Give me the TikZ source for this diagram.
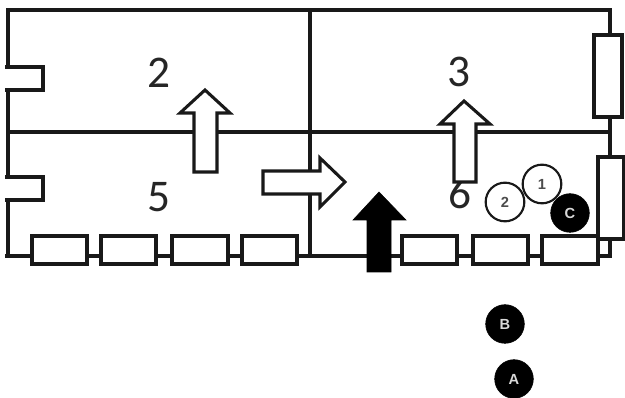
\documentclass[tikz,border=0pt]{standalone}
\usepackage{fontspec}
\setmainfont{Carlito}
\newfontfamily\lab{Liberation Sans}
\tikzset{
  wall/.style={draw=black!90,line width=2.3pt},
  win/.style={wall,fill=white},
  arrowshape/.style={wall,fill=white,line join=miter},
  solidarrow/.style={draw=black,fill=black},
  room/.style={font=\fontsize{34}{34}\selectfont,text=black!85,inner sep=0pt},
  circ/.style={circle,minimum size=29pt,inner sep=0pt,font=\lab\bfseries\fontsize{11}{11}\selectfont},
  wc/.style={circ,draw=black!90,line width=1.6pt,fill=white,text=black!70},
  bc/.style={circ,draw=black,fill=black,text=white!85!black}
}
\begin{document}
\begin{tikzpicture}[x=0.75pt,y=-0.75pt]
\useasboundingbox[fill=white] (0,0) rectangle (625,398);
% walls
\draw[wall] (5,256) -- (32,256);
\draw[wall] (8,256) -- (8,200) (5,200) -- (43,200) -- (43,177) -- (5,177) (8,177) -- (8,90) (5,90) -- (43,90) -- (43,67) -- (5,67) (8,67) -- (8,10) -- (610,10) -- (610,256) -- (8,256);
\draw[wall] (8,132) -- (610,132);
\draw[wall] (310,10) -- (310,256);
% room numbers
\node[room] (r2) at (159,73) {2};
\node[room] (r3) at (459,72) {3};
\node[room] (r5) at (159,197) {5};
\node[room] (r6) at (460,193) {6};
% windows
\foreach \n/\a/\b in {w1/32/87,w2/101/156,w3/172/228,w4/242/297,w5/402/457,w6/473/528,w7/542/598}
  \draw[win] (\a,236) rectangle (\b,264);
\draw[win] (594,35) rectangle (622,117);
\draw[win] (598,157) rectangle (624,239);
% arrows
\draw[arrowshape] (194,172) -- (194,113) -- (180,113) -- (205,90) -- (230,113) -- (217,113) -- (217,172) -- cycle;
\draw[arrowshape] (454,182) -- (454,124) -- (440,124) -- (464,101) -- (490,124) -- (476,124) -- (476,182) -- cycle;
\draw[arrowshape] (263,171) -- (320,171) -- (320,158) -- (345,182) -- (320,207) -- (320,194) -- (263,194) -- cycle;
\fill[solidarrow] (367,272) -- (367,220) -- (353,220) -- (379,192) -- (406,220) -- (391,220) -- (391,272) -- cycle;
% circles
\node[bc] (C) at (570,213) {C};
\node[wc] (n1) at (542,184) {1};
\node[wc] (n2) at (505,202) {2};
\node[bc] (B) at (505,324) {B};
\node[bc] (A) at (514,379) {A};
\end{tikzpicture}
\end{document}
